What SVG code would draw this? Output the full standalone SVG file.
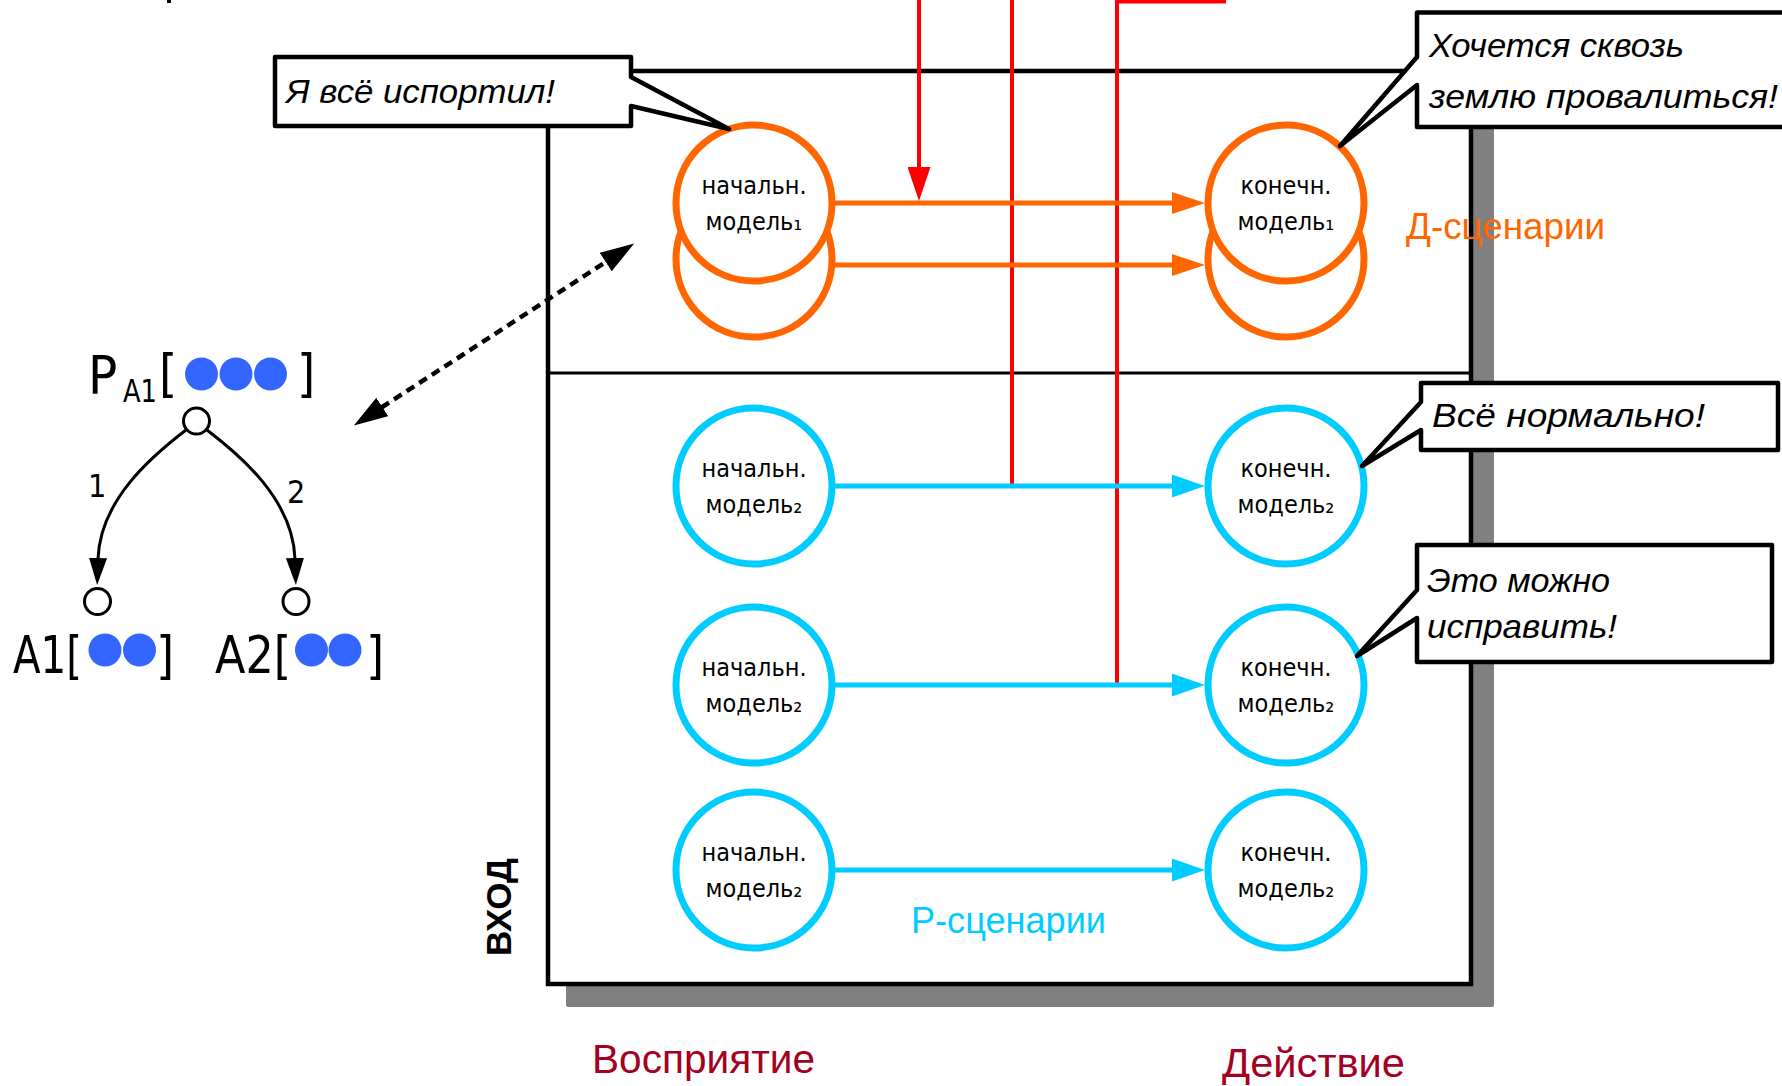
<svg xmlns="http://www.w3.org/2000/svg" width="1782" height="1086" viewBox="0 0 1782 1086">
<defs>
<style>
.shadow{fill:#808080}
.box{fill:#fff;stroke:#000;stroke-width:4.5}
.div{stroke:#000;stroke-width:3}
.red{fill:none;stroke:#FF0000;stroke-width:4}
.oc{fill:#fff;stroke:#FF6600;stroke-width:7}
.cc{fill:#fff;stroke:#00CCFF;stroke-width:7}
.oa{fill:none;stroke:#FF6600;stroke-width:5}
.ca{fill:none;stroke:#00CCFF;stroke-width:5}
.mt{font-family:"DejaVu Sans Condensed","DejaVu Sans",sans-serif;font-size:25px;fill:#000;text-anchor:middle}
.bub{fill:#fff;stroke:#000;stroke-width:4.5;stroke-linejoin:round}
.bt{font-family:"Liberation Sans",Arial,sans-serif;font-style:italic;font-size:34px;fill:#000}
.tech{font-family:"DejaVu Sans Condensed","DejaVu Sans",sans-serif;fill:#000}
.dot{fill:#3366FF}
.tn{fill:#fff;stroke:#000;stroke-width:3}
.te{fill:none;stroke:#000;stroke-width:3}
.lbl{font-family:"Liberation Sans",Arial,sans-serif}
.dash{fill:none;stroke:#000;stroke-width:4.5;stroke-dasharray:9 6}
</style>
<marker id="ahO" markerUnits="userSpaceOnUse" markerWidth="34" markerHeight="22" refX="1" refY="11" orient="auto"><path d="M0,0 L33,11 L0,22 Z" fill="#FF6600"/></marker>
<marker id="ahC" markerUnits="userSpaceOnUse" markerWidth="34" markerHeight="23" refX="1" refY="11.5" orient="auto"><path d="M0,0 L33,11.5 L0,23 Z" fill="#00CCFF"/></marker>
<marker id="ahR" markerUnits="userSpaceOnUse" markerWidth="35" markerHeight="23" refX="1" refY="11.5" orient="auto"><path d="M0,0 L34,11.5 L0,23 Z" fill="#FF0000"/></marker>
<marker id="ahK" markerUnits="userSpaceOnUse" markerWidth="35" markerHeight="22" refX="1" refY="11" orient="auto-start-reverse"><path d="M0,0 L34,11 L0,22 Z" fill="#000"/></marker>
<marker id="ahT" markerUnits="userSpaceOnUse" markerWidth="28" markerHeight="18" refX="1" refY="9" orient="auto"><path d="M0,0 L27,9 L0,18 Z" fill="#000"/></marker>
</defs>

<rect x="167" y="0" width="4" height="3" fill="#000"/>

<g id="frame">
<rect class="shadow" x="566" y="92" width="928" height="915" rx="2"/>
<rect class="box" x="548" y="71" width="923" height="913"/>
<line class="div" x1="548" y1="373" x2="1471" y2="373"/>
</g>

<g id="connectors">
<path class="red" d="M919,0 V168" marker-end="url(#ahR)"/>
<path class="red" d="M1012,0 V486"/>
<path class="red" d="M1226,1.5 H1117 V685"/>
<line class="dash" x1="381.5" y1="407.5" x2="606.5" y2="261.5" marker-start="url(#ahK)" marker-end="url(#ahK)"/>
<path class="te" d="M186,430 C152,456 100,500 98,559" marker-end="url(#ahT)"/>
<path class="te" d="M207,430 C241,456 293,500 295,559" marker-end="url(#ahT)"/>
</g>

<g id="d-start-back"><circle class="oc" cx="754" cy="259" r="78"/></g>
<g id="d-end-back"><circle class="oc" cx="1286" cy="259" r="78"/></g>
<g id="d-start-1"><circle class="oc" cx="754" cy="203" r="78"/>
<text class="mt" x="754" y="194">начальн.</text><text class="mt" x="754" y="230">модель₁</text></g>
<g id="d-end-1"><circle class="oc" cx="1286" cy="203" r="78"/>
<text class="mt" x="1286" y="194">конечн.</text><text class="mt" x="1286" y="230">модель₁</text></g>

<g id="r-start-1"><circle class="cc" cx="754" cy="486" r="78"/>
<text class="mt" x="754" y="477">начальн.</text><text class="mt" x="754" y="513">модель₂</text></g>
<g id="r-end-1"><circle class="cc" cx="1286" cy="486" r="78"/>
<text class="mt" x="1286" y="477">конечн.</text><text class="mt" x="1286" y="513">модель₂</text></g>
<g id="r-start-2"><circle class="cc" cx="754" cy="685" r="78"/>
<text class="mt" x="754" y="676">начальн.</text><text class="mt" x="754" y="712">модель₂</text></g>
<g id="r-end-2"><circle class="cc" cx="1286" cy="685" r="78"/>
<text class="mt" x="1286" y="676">конечн.</text><text class="mt" x="1286" y="712">модель₂</text></g>
<g id="r-start-3"><circle class="cc" cx="754" cy="870" r="78"/>
<text class="mt" x="754" y="861">начальн.</text><text class="mt" x="754" y="897">модель₂</text></g>
<g id="r-end-3"><circle class="cc" cx="1286" cy="870" r="78"/>
<text class="mt" x="1286" y="861">конечн.</text><text class="mt" x="1286" y="897">модель₂</text></g>

<g id="scenario-arrows">
<path class="oa" d="M833,203 H1173" marker-end="url(#ahO)"/>
<path class="oa" d="M833,265 H1173" marker-end="url(#ahO)"/>
<path class="ca" d="M833,486 H1173" marker-end="url(#ahC)"/>
<path class="ca" d="M833,685 H1173" marker-end="url(#ahC)"/>
<path class="ca" d="M833,870 H1173" marker-end="url(#ahC)"/>
</g>

<g id="labels">
<text class="lbl" x="1406" y="239" font-size="37" fill="#FF6600" textLength="199" lengthAdjust="spacingAndGlyphs">Д-сценарии</text>
<text class="lbl" x="911" y="933" font-size="36" fill="#00CCFF" textLength="195" lengthAdjust="spacingAndGlyphs">Р-сценарии</text>
<text class="lbl" x="592" y="1073" font-size="41" fill="#A50021" textLength="223" lengthAdjust="spacingAndGlyphs">Восприятие</text>
<text class="lbl" x="1222" y="1077" font-size="40" fill="#A50021" textLength="183" lengthAdjust="spacingAndGlyphs">Действие</text>
<text class="lbl" transform="translate(511,907) rotate(-90)" text-anchor="middle" font-size="35" font-weight="bold" fill="#000" textLength="98" lengthAdjust="spacingAndGlyphs">ВХОД</text>
</g>

<g id="tree-root">
<text class="tech" x="88" y="394" font-size="54">P</text>
<text class="tech" x="123" y="402" font-size="32" textLength="34" lengthAdjust="spacingAndGlyphs">A1</text>
<text class="tech" x="159" y="391" font-size="52">[</text>
<text class="tech" x="297" y="391" font-size="52">]</text>
<circle class="dot" cx="201.5" cy="374" r="16.5"/><circle class="dot" cx="236" cy="374" r="16.5"/><circle class="dot" cx="270.5" cy="374" r="16.5"/>
<circle class="tn" cx="196.5" cy="421" r="13"/>
</g>
<g id="tree-a1">
<circle class="tn" cx="97.5" cy="601.5" r="13"/>
<text class="tech" x="13" y="673" font-size="52" textLength="69" lengthAdjust="spacingAndGlyphs">A1[</text>
<text class="tech" x="156" y="673" font-size="52">]</text>
<circle class="dot" cx="105" cy="650" r="16.5"/><circle class="dot" cx="139.5" cy="650" r="16.5"/>
</g>
<g id="tree-a2">
<circle class="tn" cx="296" cy="601.5" r="13"/>
<text class="tech" x="215" y="673" font-size="52" textLength="76" lengthAdjust="spacingAndGlyphs">A2[</text>
<text class="tech" x="366" y="673" font-size="52">]</text>
<circle class="dot" cx="311.5" cy="650" r="16.5"/><circle class="dot" cx="345" cy="650" r="16.5"/>
</g>
<g id="tree-edge-labels">
<text class="tech" x="88" y="497" font-size="32">1</text>
<text class="tech" x="287" y="503" font-size="32">2</text>
</g>

<g id="bubble-1">
<path class="bub" d="M275,57 H631 V77 L729,129 L631,106 V126 H275 Z"/>
<text class="bt" x="286" y="103" textLength="269" lengthAdjust="spacingAndGlyphs">Я всё испортил!</text>
</g>
<g id="bubble-2">
<path class="bub" d="M1417,12.5 H1795 V127 H1417 V85 L1340,146 L1417,57 Z"/>
<text class="bt" x="1429" y="57" textLength="255" lengthAdjust="spacingAndGlyphs">Хочется сквозь</text>
<text class="bt" x="1429" y="108" textLength="349" lengthAdjust="spacingAndGlyphs">землю провалиться!</text>
</g>
<g id="bubble-3">
<path class="bub" d="M1421,383 H1778 V450 H1421 V430 L1362,466 L1421,402 Z"/>
<text class="bt" x="1432" y="427" textLength="273" lengthAdjust="spacingAndGlyphs">Всё нормально!</text>
</g>
<g id="bubble-4">
<path class="bub" d="M1417,545 H1772 V662 H1417 V618 L1357,656 L1417,590 Z"/>
<text class="bt" x="1427" y="592" textLength="183" lengthAdjust="spacingAndGlyphs">Это можно</text>
<text class="bt" x="1427" y="638" textLength="190" lengthAdjust="spacingAndGlyphs">исправить!</text>
</g>
</svg>
